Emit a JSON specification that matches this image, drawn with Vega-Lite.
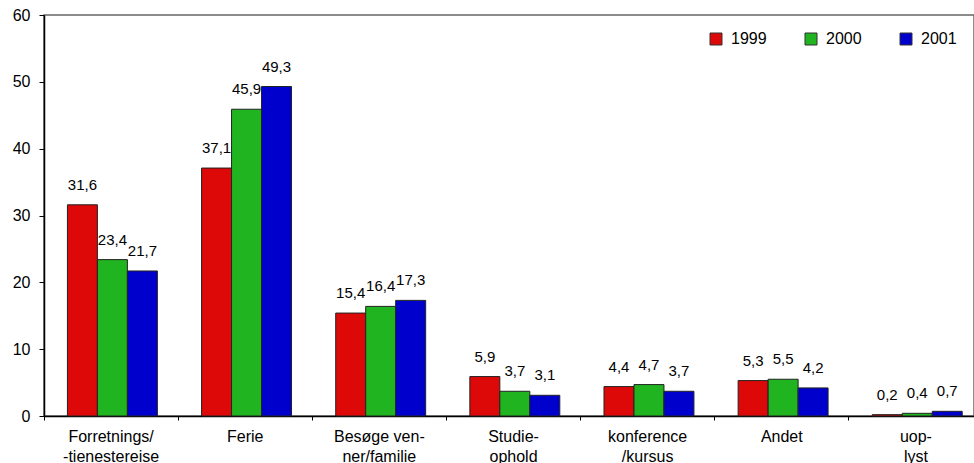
{
  "$schema": "https://vega.github.io/schema/vega-lite/v6.json",
  "width": 930,
  "height": 401,
  "autosize": {"type": "none"},
  "padding": {"left": 44, "top": 15, "right": 0, "bottom": 47},
  "config": {
    "font": "Liberation Sans",
    "locale": {"number": {"decimal": ",", "thousands": ".", "grouping": [3], "currency": ["", ""]}},
    "view": {"stroke": "#666", "strokeWidth": 1.5},
    "axis": {"grid": false, "domainColor": "#000", "tickColor": "#000", "labelColor": "#000", "labelFont": "Liberation Sans", "title": null}
  },
  "data": {
    "values": [
      {"category": "Forretnings/|-tienestereise", "year": "1999", "value": 31.6},
      {"category": "Forretnings/|-tienestereise", "year": "2000", "value": 23.4},
      {"category": "Forretnings/|-tienestereise", "year": "2001", "value": 21.7},
      {"category": "Ferie", "year": "1999", "value": 37.1},
      {"category": "Ferie", "year": "2000", "value": 45.9},
      {"category": "Ferie", "year": "2001", "value": 49.3},
      {"category": "Besøge ven-|ner/familie", "year": "1999", "value": 15.4},
      {"category": "Besøge ven-|ner/familie", "year": "2000", "value": 16.4},
      {"category": "Besøge ven-|ner/familie", "year": "2001", "value": 17.3},
      {"category": "Studie-|ophold", "year": "1999", "value": 5.9},
      {"category": "Studie-|ophold", "year": "2000", "value": 3.7},
      {"category": "Studie-|ophold", "year": "2001", "value": 3.1},
      {"category": "konference|/kursus", "year": "1999", "value": 4.4},
      {"category": "konference|/kursus", "year": "2000", "value": 4.7},
      {"category": "konference|/kursus", "year": "2001", "value": 3.7},
      {"category": "Andet", "year": "1999", "value": 5.3},
      {"category": "Andet", "year": "2000", "value": 5.5},
      {"category": "Andet", "year": "2001", "value": 4.2},
      {"category": "uop-|lyst", "year": "1999", "value": 0.2},
      {"category": "uop-|lyst", "year": "2000", "value": 0.4},
      {"category": "uop-|lyst", "year": "2001", "value": 0.7}
    ]
  },
  "encoding": {
    "x": {
      "field": "category", "type": "nominal", "sort": null,
      "scale": {"paddingInner": 0, "paddingOuter": 0, "range": [0, 939]},
      "axis": {
        "bandPosition": 0, "tickSize": 4, "labelAngle": 0, "labelFontSize": 16,
        "labelExpr": "split(datum.label, '|')", "labelLineHeight": 20,
        "labelPadding": 8, "labelLimit": 300, "domainWidth": 1.5
      }
    },
    "xOffset": {"field": "year", "type": "nominal", "scale": {"paddingInner": 0, "paddingOuter": 0.737, "align": 0.53}},
    "y": {
      "field": "value", "type": "quantitative",
      "scale": {"domain": [0, 60], "nice": false},
      "axis": {"values": [0, 10, 20, 30, 40, 50, 60], "tickSize": 5, "labelPadding": 9, "labelFontSize": 16, "domainWidth": 1.5, "format": "d"}
    }
  },
  "layer": [
    {
      "mark": {"type": "bar", "stroke": "#222", "strokeWidth": 1},
      "encoding": {
        "color": {
          "field": "year", "type": "nominal",
          "scale": {"domain": ["1999", "2000", "2001"], "range": ["#DD0808", "#20B420", "#0000CC"]},
          "legend": {
            "orient": "none", "legendX": 664, "legendY": 16, "direction": "horizontal", "title": null,
            "symbolType": "square", "symbolSize": 144, "symbolStrokeColor": "#333", "symbolStrokeWidth": 1,
            "labelFontSize": 16, "labelOffset": 7, "columnPadding": 36, "labelColor": "#000"
          }
        }
      }
    },
    {
      "mark": {"type": "text", "baseline": "bottom", "dy": -12, "fontSize": 15, "color": "#000"},
      "encoding": {"text": {"field": "value", "type": "quantitative", "format": ".1f"}}
    }
  ]
}
